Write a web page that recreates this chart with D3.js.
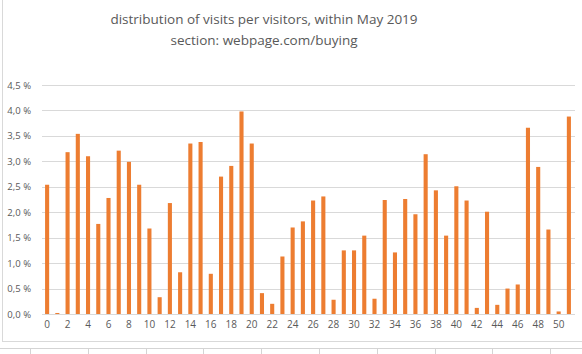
<!DOCTYPE html>
<html>
<head>
<meta charset="utf-8">
<script src="https://cdn.jsdelivr.net/npm/d3@7"></script>
<style>
  body { margin: 0; background: #fff; }
  svg { display: block; font-family: "Open Sans", "Liberation Sans", sans-serif; }
</style>
</head>
<body>
<div id="chart"></div>
<script>
// visits per visitor (0..51) and their share in %
const visits = d3.range(0, 52);
const shares = [
  2.54, 0.02, 3.18, 3.54, 3.10, 1.77, 2.28, 3.21, 2.99, 2.54,
  1.68, 0.33, 2.18, 0.82, 3.35, 3.38, 0.79, 2.70, 2.91, 3.98,
  3.35, 0.41, 0.20, 1.13, 1.70, 1.82, 2.23, 2.31, 0.28, 1.25,
  1.25, 1.54, 0.30, 2.24, 1.21, 2.26, 1.96, 3.14, 2.43, 1.54,
  2.51, 2.23, 0.12, 2.01, 0.18, 0.50, 0.58, 3.66, 2.89, 1.66,
  0.05, 3.88
];
const yTicks = [0, 0.5, 1, 1.5, 2, 2.5, 3, 3.5, 4, 4.5];
const titleLines = ["distribution of visits per visitors, within May 2019", "section: webpage.com/buying"];

const W = 582, H = 354;
const margin = { top: 85, right: 8, bottom: 40, left: 42 };

const svg = d3.select("#chart").append("svg")
  .attr("width", W)
  .attr("height", H);

// spreadsheet cells behind the chart
const cells = svg.append("g").attr("stroke", "#d4d4d4").attr("stroke-width", 1);
cells.append("line").attr("x1", 0).attr("x2", W).attr("y1", 348.5).attr("y2", 348.5);
d3.range(30, W, 57.8).forEach(x => {
  cells.append("line").attr("x1", Math.round(x) + 0.5).attr("x2", Math.round(x) + 0.5)
    .attr("y1", 348).attr("y2", H);
});

// chart frame
svg.append("rect")
  .attr("x", 2.5).attr("y", -1)
  .attr("width", W).attr("height", 342.5)
  .attr("fill", "#fff")
  .attr("stroke", "#d9d9d9");

const x = d3.scaleBand()
  .domain(visits)
  .range([margin.left, 574])
  .paddingInner(0.6)
  .paddingOuter(0.3);

const y = d3.scaleLinear()
  .domain([0, 4.5])
  .range([314, margin.top]);

// gridlines
svg.append("g")
  .selectAll("line")
  .data(yTicks)
  .join("line")
  .attr("x1", margin.left)
  .attr("x2", 575)
  .attr("y1", d => Math.round(y(d)) + 0.5)
  .attr("y2", d => Math.round(y(d)) + 0.5)
  .attr("stroke", "#d9d9d9");

// y axis labels
const yAxis = svg.append("g")
  .attr("transform", `translate(${margin.left - 8},0)`)
  .call(d3.axisLeft(y).tickValues(yTicks).tickSize(0)
    .tickFormat(d => d3.format(".1f")(d).replace(".", ",") + " %"));
yAxis.select(".domain").remove();
yAxis.selectAll("text")
  .attr("fill", "#595959")
  .attr("font-size", 9.5)
  .attr("font-family", "Open Sans, sans-serif");

// bars
svg.append("g")
  .selectAll("rect")
  .data(shares)
  .join("rect")
  .attr("x", (d, i) => x(visits[i]))
  .attr("width", x.bandwidth())
  .attr("y", d => y(d))
  .attr("height", d => y(0) - y(d))
  .attr("fill", "#ed7d31");

// x axis labels, every second category
const xAxis = svg.append("g")
  .attr("transform", `translate(0,${y(0)})`)
  .call(d3.axisBottom(x).tickValues(visits.filter(v => v % 2 === 0)).tickSize(0).tickPadding(7));
xAxis.select(".domain").attr("stroke", "#d9d9d9");
xAxis.selectAll("text")
  .attr("fill", "#595959")
  .attr("font-size", 10)
  .attr("font-family", "Open Sans, sans-serif");

// title
svg.append("g")
  .selectAll("text")
  .data(titleLines)
  .join("text")
  .attr("x", 264)
  .attr("y", (d, i) => 24 + i * 21)
  .attr("text-anchor", "middle")
  .attr("fill", "#595959")
  .attr("font-size", 13.5)
  .text(d => d);
</script>
</body>
</html>
